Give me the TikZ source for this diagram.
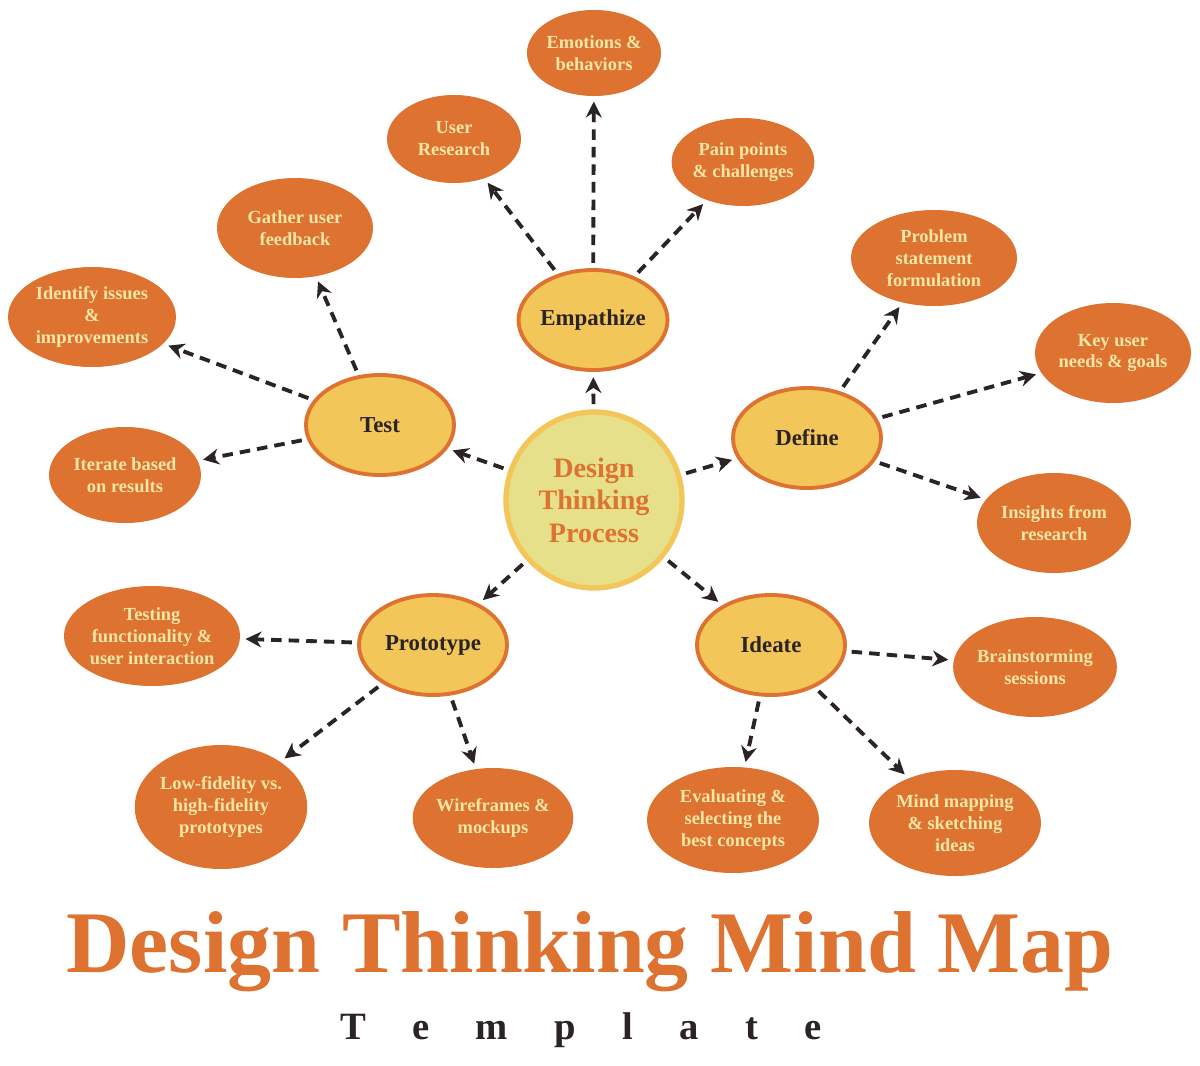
\documentclass[tikz,border=0pt]{standalone}
\usepackage{fontspec}
\setmainfont{Liberation Serif}
\usetikzlibrary{shapes.geometric,arrows.meta}
\definecolor{org}{HTML}{DE7230}
\definecolor{pale}{HTML}{F7E7A6}
\definecolor{gold}{HTML}{F3C65A}
\definecolor{ctr}{HTML}{E6E08A}
\definecolor{ink}{HTML}{2B2326}
\tikzset{
 leaf/.style={ellipse,fill=org,text=pale,inner sep=0pt,align=center,font=\bfseries\fontsize{10.5}{12.5}\selectfont},
 mainn/.style={ellipse,fill=gold,draw=org,line width=2.2pt,inner sep=0pt,minimum width=148*0.02cm,minimum height=100*0.02cm,text=ink,font=\bfseries\fontsize{13}{15}\selectfont},
 arr/.style={draw=ink,line width=2.2pt,dash pattern=on 6pt off 4pt,-{Stealth[length=9pt,width=9pt]},shorten >=3pt,shorten <=3pt}
}
\begin{document}
\begin{tikzpicture}[x=0.02cm,y=-0.02cm]
\useasboundingbox (0,0) rectangle (1200,1065);
\fill[white] (0,0) rectangle (1200,1065);
\node[circle,fill=ctr,draw=gold,line width=3pt,minimum size=176*0.02cm,align=center,text=org,font=\bfseries\fontsize{16}{18.5}\selectfont] (c) at (594,500) {Design\\Thinking\\Process};
\node[mainn] (emp) at (593,320) {Empathize};
\node[mainn] (def) at (807,438) {Define};
\node[mainn] (test) at (380,425) {Test};
\node[mainn] (proto) at (433,645) {Prototype};
\node[mainn] (idea) at (771,645) {Ideate};
\node[leaf,minimum width=134*0.02cm,minimum height=86*0.02cm] (l1) at (594,53) {Emotions \&\\behaviors};
\node[leaf,minimum width=134*0.02cm,minimum height=88*0.02cm] (l2) at (454,139) {User\\Research};
\node[leaf,minimum width=134*0.02cm,minimum height=88*0.02cm] (l3) at (743,162) {Pain points\\\& challenges};
\node[leaf,minimum width=166*0.02cm,minimum height=96*0.02cm] (l4) at (934,258) {Problem\\statement\\formulation};
\node[leaf,minimum width=156*0.02cm,minimum height=100*0.02cm] (l5) at (1113,353) {Key user\\needs \& goals};
\node[leaf,minimum width=154*0.02cm,minimum height=100*0.02cm] (l6) at (1054,523) {Insights from\\research};
\node[leaf,minimum width=156*0.02cm,minimum height=100*0.02cm] (l7) at (295,228) {Gather user\\feedback};
\node[leaf,minimum width=168*0.02cm,minimum height=100*0.02cm] (l8) at (92,317) {Identify issues\\\&\\improvements};
\node[leaf,minimum width=152*0.02cm,minimum height=96*0.02cm] (l9) at (125,475) {Iterate based\\on results};
\node[leaf,minimum width=166*0.02cm,minimum height=100*0.02cm] (l10) at (152,636) {Testing\\functionality \&\\user interaction};
\node[leaf,minimum width=172*0.02cm,minimum height=124*0.02cm] (l11) at (221,807) {Low-fidelity vs.\\high-fidelity\\prototypes};
\node[leaf,minimum width=154*0.02cm,minimum height=100*0.02cm] (l12) at (493,818) {Wireframes \&\\mockups};
\node[leaf,minimum width=172*0.02cm,minimum height=106*0.02cm] (l13) at (733,820) {Evaluating \&\\selecting the\\best concepts};
\node[leaf,minimum width=172*0.02cm,minimum height=106*0.02cm] (l14) at (955,823) {Mind mapping\\\& sketching\\ideas};
\node[leaf,minimum width=158*0.02cm,minimum height=100*0.02cm] (l15) at (1035,667) {Brainstorming\\sessions};
\foreach \t in {emp,def,test,proto,idea} \draw[arr] (c) -- (\t);
\foreach \t in {l1,l2,l3} \draw[arr] (emp) -- (\t);
\foreach \t in {l4,l5,l6} \draw[arr] (def) -- (\t);
\foreach \t in {l7,l8,l9} \draw[arr] (test) -- (\t);
\foreach \t in {l10,l11,l12} \draw[arr] (proto) -- (\t);
\foreach \t in {l13,l14,l15} \draw[arr] (idea) -- (\t);
\node[text=org,font=\bfseries\fontsize{50}{56}\selectfont] (title) at (590,952) {Design Thinking Mind Map};
\node[text=ink,font=\bfseries\fontsize{22}{26}\selectfont] (sub) at (581,1030) {T\hspace{1.2em}e\hspace{1.2em}m\hspace{1.2em}p\hspace{1.2em}l\hspace{1.2em}a\hspace{1.2em}t\hspace{1.2em}e};
\end{tikzpicture}
\end{document}
